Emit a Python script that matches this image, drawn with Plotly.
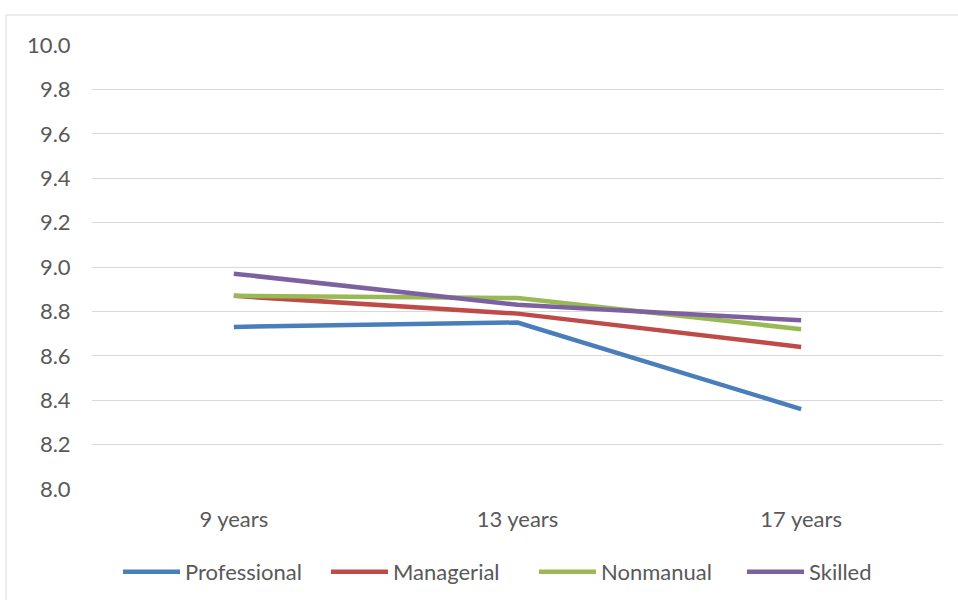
import plotly.graph_objects as go

categories = ["9 years", "13 years", "17 years"]
professional = [8.73, 8.75, 8.36]
managerial = [8.87, 8.79, 8.64]
nonmanual = [8.87, 8.86, 8.72]
skilled = [8.97, 8.83, 8.76]

series = [
    ("Professional", professional, "#4a7ebb"),
    ("Managerial", managerial, "#be4b48"),
    ("Nonmanual", nonmanual, "#98b954"),
    ("Skilled", skilled, "#7d60a0"),
]

fig = go.Figure()
for name, vals, col in series:
    fig.add_trace(go.Scatter(x=categories, y=vals, name=name, mode="lines",
                             line=dict(color=col, width=4.5)))

L, R, T, B = 92, 15, 45, 111
W, H = 958, 600
pw, ph = W - L - R, H - T - B
FONT = "Lato, Noto Sans, sans-serif"

fig.update_layout(
    width=W, height=H,
    margin=dict(l=L, r=R, t=T, b=B, autoexpand=False),
    paper_bgcolor="white", plot_bgcolor="white",
    font=dict(family=FONT, size=22, color="#595959"),
    xaxis=dict(range=[-0.5, 2.5], showgrid=False, showline=False,
               ticks="outside", ticklen=11, tickcolor="rgba(0,0,0,0)",
               tickfont=dict(size=22, color="#595959")),
    yaxis=dict(range=[8.0, 10.0], dtick=0.2, tickformat=".1f", showgrid=True,
               gridcolor="#d9d9d9", gridwidth=1, zeroline=False, showline=False,
               ticks="outside", ticklen=16, tickcolor="rgba(0,0,0,0)",
               tickfont=dict(size=22, color="#595959")),
    legend=dict(orientation="h", x=(118 - L) / pw, xanchor="left",
                y=(H - 572 - B) / ph, yanchor="middle",
                font=dict(size=22, color="#595959"),
                itemwidth=57, entrywidth=136, entrywidthmode="pixels"),
    showlegend=True,
    shapes=[dict(type="rect", xref="paper", yref="paper",
                 x0=(6 - L) / pw, x1=(990 - L) / pw,
                 y0=(H - 640 - B) / ph, y1=1 + (T - 15) / ph,
                 line=dict(color="#d9d9d9", width=1), fillcolor="rgba(0,0,0,0)",
                 layer="below")],
)

fig.write_html("out.html", config={"displayModeBar": False},
               post_script="document.body.style.margin='0px';")
